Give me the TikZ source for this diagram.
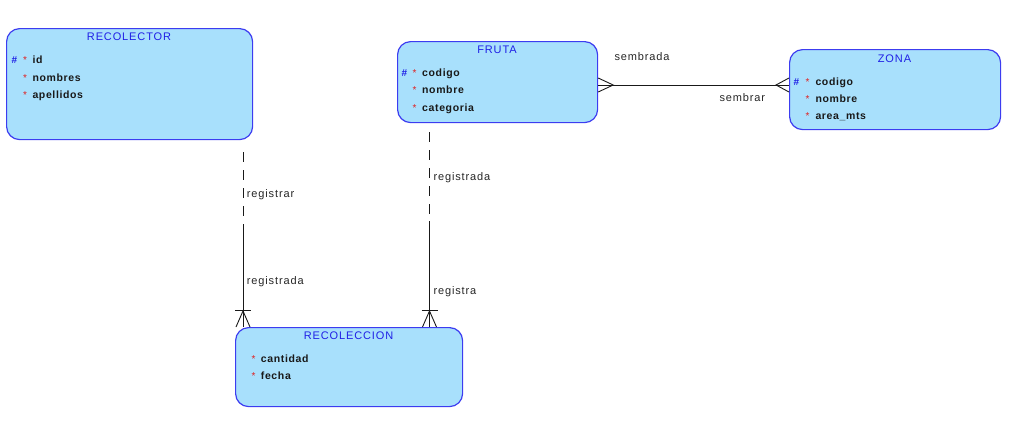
\documentclass[tikz,border=0pt]{standalone}
\usepackage{fontspec}
\setmainfont{Liberation Sans}
\newfontfamily\attrf{Liberation Sans}[LetterSpace=6]
\newfontfamily\titlef{Liberation Sans}[LetterSpace=8]
\newfontfamily\labf{Liberation Sans}[LetterSpace=8]
\definecolor{entfill}{HTML}{A8E0FC}
\definecolor{entdraw}{HTML}{3C3CF0}
\definecolor{enttitle}{HTML}{2020E6}
\definecolor{keyred}{HTML}{E02020}
\begin{document}
\begin{tikzpicture}[x=1pt,y=-1pt,
  ent/.style={draw=entdraw, fill=entfill, line width=1.2pt, rounded corners=13pt, inner sep=0pt, anchor=north west},
  ttl/.style={inner sep=0pt, anchor=base, text=enttitle, font=\titlef\fontsize{11}{13}\selectfont},
  attr/.style={inner sep=0pt, anchor=base west, text=black!90, font=\attrf\bfseries\fontsize{10.5}{12}\selectfont},
  keymark/.style={inner sep=0pt, anchor=base west, font=\fontsize{10}{12}\selectfont},
  lab/.style={inner sep=0pt, anchor=base west, text=black!85, font=\labf\fontsize{11}{13}\selectfont},
  rel/.style={draw=black!90, line width=0.9pt},
  dashpat/.style={rel, dash pattern=on 10pt off 8pt}
]
\useasboundingbox (0,0) rectangle (1010,421);

% entities
\node[ent, minimum width=246pt, minimum height=111pt] (recolector) at (6,28) {};
\node[ent, minimum width=200pt, minimum height=81pt] (fruta) at (397,41) {};
\node[ent, minimum width=211pt, minimum height=80pt] (zona) at (789,49) {};
\node[ent, minimum width=227pt, minimum height=79pt] (recoleccion) at (235,327) {};

% RECOLECTOR
\node[ttl] (t1) at (129,40.7) {\textbf{}RECOLECTOR};
\node[keymark, text=enttitle, font=\bfseries\fontsize{10}{12}\selectfont] (h1) at (11.5,63.3) {\#};
\node[keymark, text=keyred] (s1a) at (23,63.3) {*};
\node[attr] (a1a) at (32.3,63.3) {id};
\node[keymark, text=keyred] (s1b) at (23,81) {*};
\node[attr] (a1b) at (32.3,81) {nombres};
\node[keymark, text=keyred] (s1c) at (23,98.5) {*};
\node[attr] (a1c) at (32.3,98.5) {apellidos};

% FRUTA
\node[ttl] (t2) at (497,53.3) {FRUTA};
\node[keymark, text=enttitle, font=\bfseries\fontsize{10}{12}\selectfont] (h2) at (401.5,76) {\#};
\node[keymark, text=keyred] (s2a) at (412.5,76) {*};
\node[attr] (a2a) at (422,76) {codigo};
\node[keymark, text=keyred] (s2b) at (412.5,93.5) {*};
\node[attr] (a2b) at (422,93.5) {nombre};
\node[keymark, text=keyred] (s2c) at (412.5,111) {*};
\node[attr] (a2c) at (422,111) {categoria};

% ZONA
\node[ttl] (t3) at (894.5,62) {ZONA};
\node[keymark, text=enttitle, font=\bfseries\fontsize{10}{12}\selectfont] (h3) at (793.5,85) {\#};
\node[keymark, text=keyred] (s3a) at (805.5,85) {*};
\node[attr] (a3a) at (815.3,85) {codigo};
\node[keymark, text=keyred] (s3b) at (805.5,102.3) {*};
\node[attr] (a3b) at (815.3,102.3) {nombre};
\node[keymark, text=keyred] (s3c) at (805.5,119.5) {*};
\node[attr] (a3c) at (815.3,119.5) {area\_mts};

% RECOLECCION
\node[ttl] (t4) at (348.5,339.3) {RECOLECCION};
\node[keymark, text=keyred] (s4a) at (251.5,362.3) {*};
\node[attr] (a4a) at (260.7,362.3) {cantidad};
\node[keymark, text=keyred] (s4b) at (251.5,379.3) {*};
\node[attr] (a4b) at (260.7,379.3) {fecha};

% connector helper coordinates
\coordinate (m1) at (243,230);
\coordinate (m2) at (429.5,221);
\coordinate (hy) at (0,85);

% RECOLECTOR -- RECOLECCION
\draw[dashpat] ([yshift=-12pt]recolector.south -| m1) -- (m1);
\draw[rel] (m1) -- (recoleccion.north -| m1) coordinate (e1);
\draw[rel] ([shift={(-8,-17)}]e1) -- ([shift={(8,-17)}]e1);
\draw[rel] ([shift={(-7,0)}]e1) -- ([shift={(0,-16)}]e1) -- ([shift={(7,0)}]e1);

% FRUTA -- RECOLECCION
\draw[dashpat] ([yshift=-9pt]fruta.south -| m2) -- (m2);
\draw[rel] (m2) -- (recoleccion.north -| m2) coordinate (e2);
\draw[rel] ([shift={(-8,-17)}]e2) -- ([shift={(8,-17)}]e2);
\draw[rel] ([shift={(-7,0)}]e2) -- ([shift={(0,-16)}]e2) -- ([shift={(7,0)}]e2);

% FRUTA -- ZONA
\draw[rel] (fruta.east |- hy) coordinate (f1) -- (zona.west |- hy) coordinate (z1);
\draw[rel] ([shift={(0,-7)}]f1) -- ([shift={(15,0)}]f1) -- ([shift={(0,7)}]f1);
\draw[rel] ([shift={(0,-7)}]z1) -- ([shift={(-13,0)}]z1) -- ([shift={(0,7)}]z1);

% labels
\node[lab] (l1) at (246.7,197.3) {registrar};
\node[lab] (l2) at (246.7,284) {registrada};
\node[lab] (l3) at (433.3,180) {registrada};
\node[lab] (l4) at (433.3,294) {registra};
\node[lab] (l5) at (614.3,60) {sembrada};
\node[lab] (l6) at (719.3,101.7) {sembrar};
\end{tikzpicture}
\end{document}
